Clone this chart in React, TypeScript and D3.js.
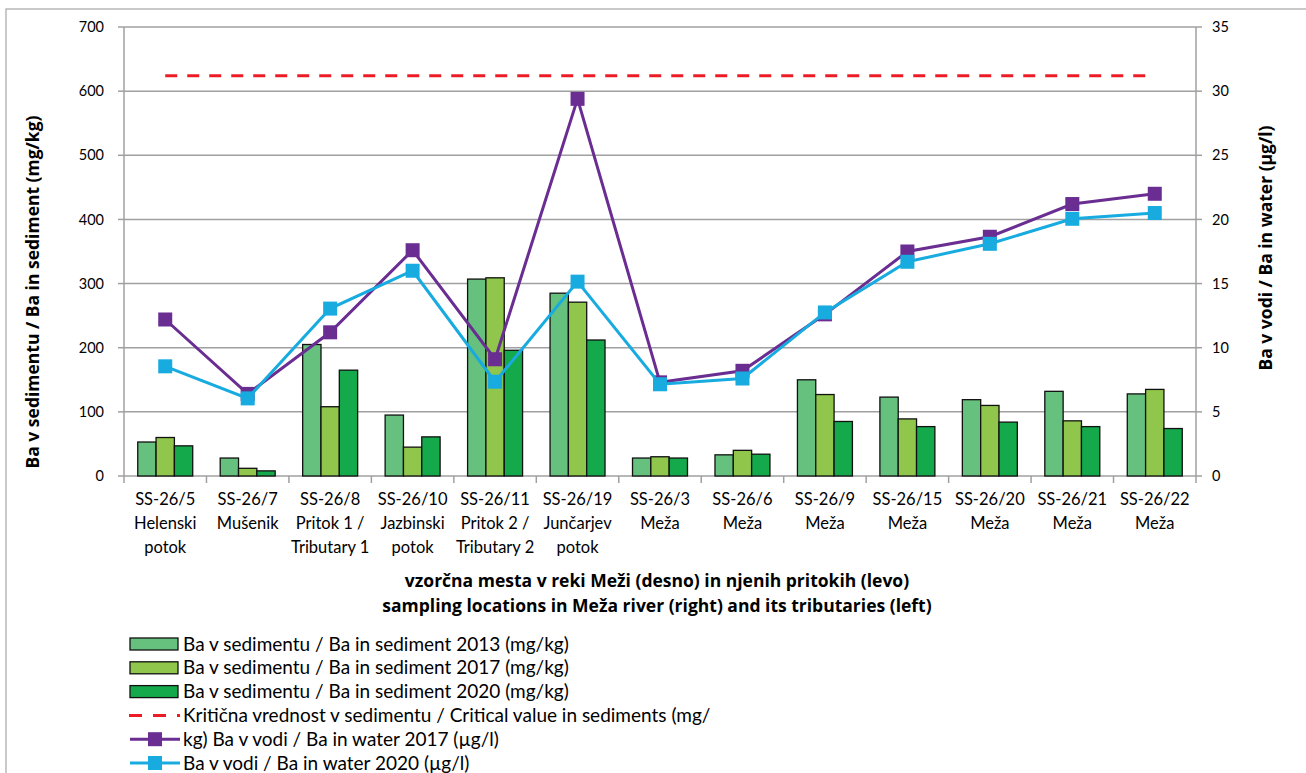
import React from "react";
import * as d3 from "d3";

const categories = ["SS-26/5", "SS-26/7", "SS-26/8", "SS-26/10", "SS-26/11", "SS-26/19", "SS-26/3", "SS-26/6", "SS-26/9", "SS-26/15", "SS-26/20", "SS-26/21", "SS-26/22"];
const subLabels = [
  ["Helenski", "potok"],
  ["Mušenik"],
  ["Pritok 1 /", "Tributary 1"],
  ["Jazbinski", "potok"],
  ["Pritok 2 /", "Tributary 2"],
  ["Junčarjev", "potok"],
  ["Meža"], ["Meža"], ["Meža"], ["Meža"], ["Meža"], ["Meža"], ["Meža"],
];
const sed2013 = [53, 28, 205, 95, 307, 285, 28, 33, 150, 123, 119, 132, 128];
const sed2017 = [60, 12, 108, 45, 309, 271, 30, 40, 127, 89, 110, 86, 135];
const sed2020 = [47, 8, 165, 61, 196, 212, 28, 34, 85, 77, 84, 77, 74];
const criticalValue = 624;
const water2017 = [12.2, 6.4, 11.2, 17.6, 9.1, 29.4, 7.3, 8.2, 12.6, 17.5, 18.65, 21.2, 22.0];
const water2020 = [8.55, 6.05, 13.05, 16.0, 7.35, 15.15, 7.15, 7.6, 12.75, 16.7, 18.1, 20.05, 20.5];
const leftTicks = [0, 100, 200, 300, 400, 500, 600, 700];
const rightTicks = [0, 5, 10, 15, 20, 25, 30, 35];

const legendLabels = [
  "Ba v sedimentu / Ba in sediment 2013 (mg/kg)",
  "Ba v sedimentu / Ba in sediment 2017 (mg/kg)",
  "Ba v sedimentu / Ba in sediment 2020 (mg/kg)",
  "Kritična vrednost v sedimentu / Critical value in sediments (mg/",
  "kg) Ba v vodi / Ba in water 2017 (µg/l)",
  "Ba v vodi / Ba in water 2020 (µg/l)",
];

const C2013 = "#66c07e";
const C2017 = "#8fc64b";
const C2020 = "#14a94b";
const CPURPLE = "#6a2d91";
const CBLUE = "#18abe0";
const CRED = "#ed1c24";
const GRID = "#a0a0a0";
const FONT = "Lato, 'Open Sans', sans-serif";
const BOLDFONT = "'Open Sans', Lato, sans-serif";

export default function App() {
  const W = 1306, H = 773;
  const left = 124, right = 1196, top = 27, bottom = 476;
  const x = d3.scaleBand<string>().domain(categories).range([left, right]).paddingInner(0).paddingOuter(0);
  const yL = d3.scaleLinear().domain([0, 700]).range([bottom, top]);
  const yR = d3.scaleLinear().domain([0, 35]).range([bottom, top]);
  const bw = x.bandwidth() / 4.5;
  const series = [sed2013, sed2017, sed2020];
  const colors = [C2013, C2017, C2020];
  const cx = (c: string) => (x(c) as number) + x.bandwidth() / 2;
  const line = d3.line<number>().x((_, i) => cx(categories[i])).y((d) => yR(d));

  return (
    <svg width={W} height={H} style={{ position: "absolute", left: 0, top: 0, background: "#fff" }} fontFamily={FONT}>
      <rect x={6} y={9} width={W + 10} height={H + 10} fill="#fff" stroke="#a6a6a6" strokeWidth={1.2} />
      {leftTicks.map((t) => (
        <line key={"g" + t} x1={left} x2={right} y1={yL(t)} y2={yL(t)} stroke={GRID} strokeWidth={1.5} />
      ))}
      <line x1={left} x2={left} y1={top} y2={bottom} stroke={GRID} strokeWidth={1.5} />
      <line x1={right} x2={right} y1={top} y2={bottom} stroke={GRID} strokeWidth={1.5} />
      {leftTicks.map((t) => (
        <g key={"lt" + t}>
          <line x1={left - 6} x2={left} y1={yL(t)} y2={yL(t)} stroke={GRID} strokeWidth={1.5} />
          <text x={left - 20} y={yL(t)} dy="0.35em" textAnchor="end" fontSize={14.5} fill="#000">{t}</text>
        </g>
      ))}
      {rightTicks.map((t) => (
        <g key={"rt" + t}>
          <line x1={right} x2={right + 6} y1={yR(t)} y2={yR(t)} stroke={GRID} strokeWidth={1.5} />
          <text x={right + 16} y={yR(t)} dy="0.35em" textAnchor="start" fontSize={14.5} fill="#000">{t}</text>
        </g>
      ))}
      {categories.map((c, i) => (
        <line key={"xt" + i} x1={x(c) as number} x2={x(c) as number} y1={bottom} y2={bottom + 7} stroke={GRID} strokeWidth={1.5} />
      ))}
      <line x1={right} x2={right} y1={bottom} y2={bottom + 7} stroke={GRID} strokeWidth={1.5} />
      {series.map((s, si) =>
        s.map((v, i) => {
          const c = categories[i];
          const bx = cx(c) - 1.5 * bw + si * bw;
          return (
            <rect key={"b" + si + "-" + i} x={bx} y={yL(v)} width={bw} height={yL(0) - yL(v)} fill={colors[si]} stroke="#111" strokeWidth={1.3} />
          );
        })
      )}
      <line x1={cx(categories[0])} x2={cx(categories[categories.length - 1])} y1={yL(criticalValue)} y2={yL(criticalValue)} stroke={CRED} strokeWidth={3.2} strokeDasharray="12,10" />
      <path d={line(water2017) || ""} fill="none" stroke={CPURPLE} strokeWidth={3} />
      {water2017.map((v, i) => (
        <rect key={"p" + i} x={cx(categories[i]) - 7} y={yR(v) - 7} width={14} height={14} fill={CPURPLE} />
      ))}
      <path d={line(water2020) || ""} fill="none" stroke={CBLUE} strokeWidth={3} />
      {water2020.map((v, i) => (
        <rect key={"q" + i} x={cx(categories[i]) - 7} y={yR(v) - 7} width={14} height={14} fill={CBLUE} />
      ))}
      {categories.map((c, i) => (
        <text key={"cl" + i} x={cx(c)} y={bottom + 29} textAnchor="middle" fontSize={16.5} fill="#000">
          <tspan x={cx(c)}>{c}</tspan>
          {subLabels[i].map((s, j) => (
            <tspan key={j} x={cx(c)} dy={24}>{s}</tspan>
          ))}
        </text>
      ))}
      <g fontFamily={BOLDFONT} fontWeight="bold" fontSize={17.5}>
        <text x={657} y={587} textAnchor="middle">vzorčna mesta v reki Meži (desno) in njenih pritokih (levo)</text>
        <text x={657} y={612} textAnchor="middle">sampling locations in Meža river (right) and its tributaries (left)</text>
        <text transform={`translate(33,${292}) rotate(-90)`} textAnchor="middle" dy="0.35em">Ba v sedimentu / Ba in sediment (mg/kg)</text>
        <text transform={`translate(1266,${248}) rotate(-90)`} textAnchor="middle" dy="0.35em">Ba v vodi / Ba in water (µg/l)</text>
      </g>
      {legendLabels.map((l, i) => {
        const ly = 644 + i * 23.8;
        let sw: React.ReactNode = null;
        if (i < 3) {
          sw = <rect x={130} y={ly - 6} width={48} height={12} fill={colors[i]} stroke="#111" strokeWidth={1.3} />;
        } else if (i === 3) {
          sw = <line x1={129} x2={180} y1={ly} y2={ly} stroke={CRED} strokeWidth={3} strokeDasharray="13,11" />;
        } else {
          const col = i === 4 ? CPURPLE : CBLUE;
          sw = (
            <g>
              <line x1={130} x2={180} y1={ly} y2={ly} stroke={col} strokeWidth={3} />
              <rect x={148} y={ly - 7} width={14} height={14} fill={col} />
            </g>
          );
        }
        return (
          <g key={"lg" + i}>
            {sw}
            <text x={183} y={ly} dy="0.35em" fontSize={19} fill="#000">{l}</text>
          </g>
        );
      })}
    </svg>
  );
}
